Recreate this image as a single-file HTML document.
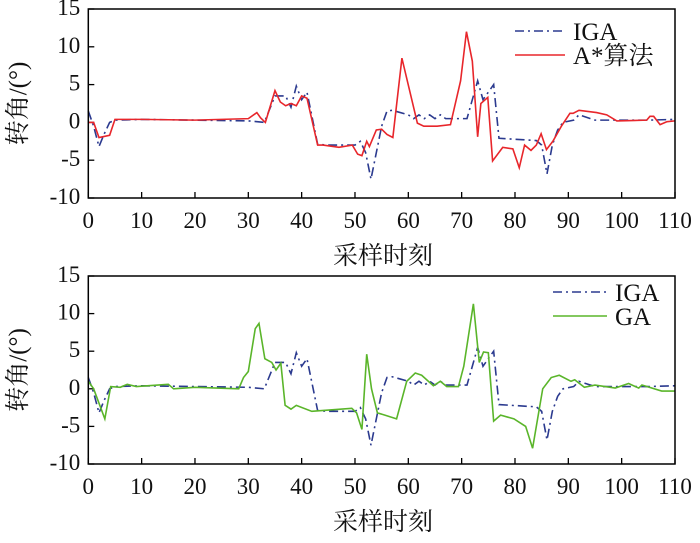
<!DOCTYPE html>
<html><head><meta charset="utf-8"><style>
body{margin:0;background:#fff}
svg text{font-family:"Liberation Serif","Noto Serif CJK SC","Noto Sans CJK SC",serif;fill:#111}
</style></head><body>
<svg id="c" width="700" height="538" xmlns="http://www.w3.org/2000/svg"></svg>
<script>
const xTicks=[0,10,20,30,40,50,60,70,80,90,100,110];
const yTicks=[-10,-5,0,5,10,15];
const igaX=[0,1,2,3,4,5,10,20,30,33,35,37,38,39,40,41,43,45,50,51,52,53,54,55,56,57,60,61,62,63,64,65,66,67,70,71,73,74,75,76,77,84,85,86,87,88,89,91,92,95,100,105,110];
const igaY=[1.5,-0.5,-3.2,-1.5,0,0.3,0.4,0.3,0.2,0,3.5,3.5,2,4.8,3,4,-2.9,-3,-3,-2.5,-4,-7.5,-4,-0.5,1.5,1.6,1,0.5,1,0.5,1,0.5,1,0.5,0.5,0.5,5.5,3,4,5,-2.1,-2.4,-3,-6.8,-3,-1,0,0.3,1,0.3,0.3,0.3,0.4];
const astarX=[0,1,2,4,5,10,20,30,31.6,32.3,33.2,35,36,37,38,39,40,41,43,44,47,49.5,50.5,51.3,52.2,52.7,54,55,56,57.1,58.8,61.7,62.9,65.4,67.9,69.8,70.9,72,73,73.6,74.9,75.8,77.7,79.6,80.8,81.8,83,84,84.9,85.9,87.1,88.7,90.3,90.9,92,95.3,97.2,99.1,104.7,105.3,106,107.2,108.5,110];
const astarY=[0,0,-2,-1.7,0.4,0.4,0.3,0.5,1.3,0.6,0,4.2,2.7,2.2,2.5,2.2,3.5,3.2,-3,-3,-3.3,-3,-4.2,-4.4,-2.5,-3.2,-1,-0.9,-1.6,-2,8.5,-0.1,-0.5,-0.5,-0.3,5.5,12,8.1,-1.9,2.5,3.3,-5.1,-3.3,-3.5,-6,-3,-3.7,-3,-1.5,-3.6,-2.5,-0.5,1.2,1.2,1.6,1.3,1,0.2,0.3,0.8,0.8,-0.3,0.1,0.2];
const gaX=[0,1,3.1,4.2,6,7.3,9,15,16,20,28.2,29.1,30,31.3,32,33.1,34.4,35.2,36.1,36.9,38,39,41.9,49.4,50.3,51.3,52.2,53.1,54.2,55.6,57.8,59.7,61.3,62.5,64.7,66,67.2,69.4,70.4,72.2,73.3,74.1,75,76,77.3,79.8,82,83.3,85.2,86.8,88.3,90.5,91.2,93,95,98.8,101.3,103.2,103.8,107.5,110];
const gaY=[1,0,-4,0.3,0.2,0.6,0.3,0.6,0,0.2,0,1.5,2.3,8,8.7,4,3.5,2.5,3.4,-2.2,-2.7,-2.2,-3,-2.6,-3.2,-5.4,4.6,0,-3.2,-3.5,-4,1,2.1,1.8,0.4,1,0.3,0.3,3,11.3,3.5,4.9,4.8,-4.3,-3.5,-4,-5,-7.9,0,1.5,1.8,1,1.2,0.2,0.5,0.1,0.7,0.1,0.5,-0.3,-0.3];

const svg=document.getElementById('c');const NS='http://www.w3.org/2000/svg';
function el(t,a,p){const e=document.createElementNS(NS,t);for(const k in a)e.setAttribute(k,a[k]);(p||svg).appendChild(e);return e;}
const L=88.3,R=675,XMAX=110;
function sx(v){return L+(R-L)*v/XMAX;}
function panel(top,bot,series,legend,prefix){
  const sy=v=>bot-(bot-top)*(v+10)/25;
  const g=el('g',{});
  
  
  xTicks.forEach(t=>{const x=sx(t);
    el('line',{x1:x,x2:x,y1:bot,y2:bot-6,stroke:'#000','stroke-width':1.3},g);
    const tx=el('text',{x:x,y:bot+30,'text-anchor':'middle','font-size':23},g);tx.textContent=t;
    });
  yTicks.forEach(t=>{const y=sy(t);
    el('line',{x1:L,x2:L+6,y1:y,y2:y,stroke:'#000','stroke-width':1.3},g);
    const tx=el('text',{x:L-8,y:y+6,'text-anchor':'end','font-size':23},g);tx.textContent=t;
    });
  series.forEach(s=>{
    const p=el('polyline',{points:s.x.map((v,i)=>sx(v)+','+sy(s.y[i])).join(' '),fill:'none',stroke:s.c,'stroke-width':1.6,'stroke-dasharray':s.d||'none'},g);
    });
  const fr=el('rect',{x:L,y:top,width:R-L,height:bot-top,fill:'none',stroke:'#000','stroke-width':1.5},g);
  
  legend.forEach(l=>{
    el('line',{x1:l.x1,x2:l.x2,y1:l.y,y2:l.y,stroke:l.c,'stroke-width':1.6,'stroke-dasharray':l.d||'none'},g);
    const t=el('text',{x:l.x2+8,y:l.y+9,'font-size':25},g);t.textContent=l.t;
    });
  const yt=el('text',{transform:`translate(26,${(top+bot)/2}) rotate(-90)`,'text-anchor':'middle','font-size':25},g);
  yt.textContent='转角/(°)';
  const xt=el('text',{x:383,y:bot+66,'text-anchor':'middle','font-size':25},g);
  xt.textContent='采样时刻';
}
const dd='9,4,2,4';
panel(9,198,[{x:igaX,y:igaY,c:'#2b3a8f',d:dd,n:'iga'},{x:astarX,y:astarY,c:'#e8262b',n:'astar'}],
 [{x1:515,x2:565,y:31,c:'#2b3a8f',d:dd,t:'IGA'},{x1:515,x2:565,y:55,c:'#e8262b',t:'A*算法'}],'top');
panel(276,464,[{x:igaX,y:igaY,c:'#2b3a8f',d:dd,n:'iga'},{x:gaX,y:gaY,c:'#5ab52a',n:'ga'}],
 [{x1:553,x2:607,y:292,c:'#2b3a8f',d:dd,t:'IGA'},{x1:553,x2:607,y:316,c:'#5ab52a',t:'GA'}],'bottom');
</script>
</body></html>
